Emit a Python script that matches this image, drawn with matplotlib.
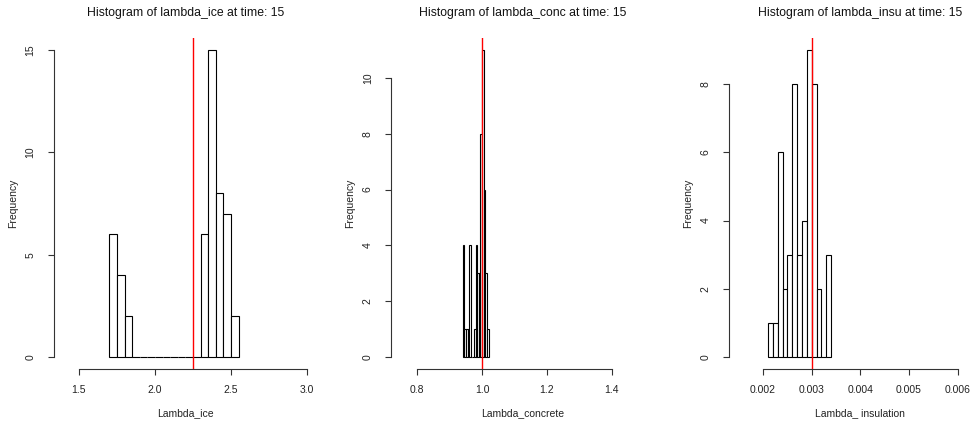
import numpy as np
import matplotlib.pyplot as plt

plt.rcParams['font.family'] = ['Liberation Sans', 'DejaVu Sans']

# histogram counts; bins start at *_start and are *_width wide
ice_start, ice_width = 1.70, 0.05
ice_counts = [6, 4, 2, 0, 0, 0, 0, 0, 0, 0, 0, 0, 6, 15, 8, 7, 2]

conc_start, conc_width = 0.940, 0.005
conc_counts = [4, 1, 1, 1, 4, 0, 0, 1, 4, 3, 3, 8, 11, 6, 3, 1]

insu_start, insu_width = 0.0021, 0.0001
insu_counts = [1, 1, 6, 2, 3, 8, 3, 4, 9, 8, 2, 0, 3]

true_values = [2.25, 1.0, 0.003]
titles = ["Histogram of lambda_ice at time: 15",
          "Histogram of lambda_conc at time: 15",
          "Histogram of lambda_insu at time: 15"]
xlabels = ["Lambda_ice", "Lambda_concrete", "Lambda_ insulation"]
xticks = [[1.5, 2.0, 2.5, 3.0],
          [0.8, 1.0, 1.2, 1.4],
          [0.002, 0.003, 0.004, 0.005, 0.006]]
xticklabels = [["1.5", "2.0", "2.5", "3.0"],
               ["0.8", "1.0", "1.2", "1.4"],
               ["0.002", "0.003", "0.004", "0.005", "0.006"]]
yticks = [[0, 5, 10, 15], [0, 2, 4, 6, 8, 10], [0, 2, 4, 6, 8]]
xlims = [(1.336, 3.064), (0.72, 1.53), (0.0013, 0.0067)]

W, H = 973, 426
fig = plt.figure(figsize=(W / 100, H / 100), dpi=100)

lefts = [54, 391.3, 729]
top, bottom = 37.7, 369.3
width = 262.7
height = bottom - top

panels = [(ice_start, ice_width, ice_counts),
          (conc_start, conc_width, conc_counts),
          (insu_start, insu_width, insu_counts)]

for i, (start, bw, counts) in enumerate(panels):
    ax = fig.add_axes([lefts[i] / W, 1 - bottom / H, width / W, height / H])
    counts = np.asarray(counts)
    lefts_x = start + bw * np.arange(len(counts))
    ax.bar(lefts_x, counts, width=bw, align='edge',
           facecolor='white', edgecolor='black', linewidth=0.8)
    ax.axvline(true_values[i], color='red', linewidth=1.0)

    top_count = counts.max()
    ax.set_xlim(*xlims[i])
    ax.set_ylim(-0.04 * top_count, 1.04 * top_count)

    for side in ['top', 'right']:
        ax.spines[side].set_visible(False)
    ax.spines['left'].set_bounds(yticks[i][0], yticks[i][-1])
    ax.spines['bottom'].set_bounds(xticks[i][0], xticks[i][-1])
    for side in ['left', 'bottom']:
        ax.spines[side].set_linewidth(0.8)
        ax.spines[side].set_color('#333333')

    ax.set_xticks(xticks[i])
    ax.set_xticklabels(xticklabels[i])
    ax.set_yticks(yticks[i])
    ax.set_yticklabels([str(t) for t in yticks[i]], rotation=90, va='center')
    ax.tick_params(axis='both', length=4.3, width=0.8, color='#333333',
                   labelsize=7.5, labelcolor='#222222')
    ax.tick_params(axis='x', pad=7)
    ax.tick_params(axis='y', pad=9)

    ax.text(0.5, 1 + 24.7 / height, titles[i], transform=ax.transAxes,
            ha='center', va='center', fontsize=8.8, color='#111111')
    ax.text(0.5, -43.7 / height, xlabels[i], transform=ax.transAxes,
            ha='center', va='center', fontsize=7.5, color='#222222')
    ax.text(-41 / width, 0.5, "Frequency", transform=ax.transAxes,
            ha='center', va='center', rotation=90, fontsize=7.5,
            color='#222222')

fig.savefig("out.png", dpi=100)
